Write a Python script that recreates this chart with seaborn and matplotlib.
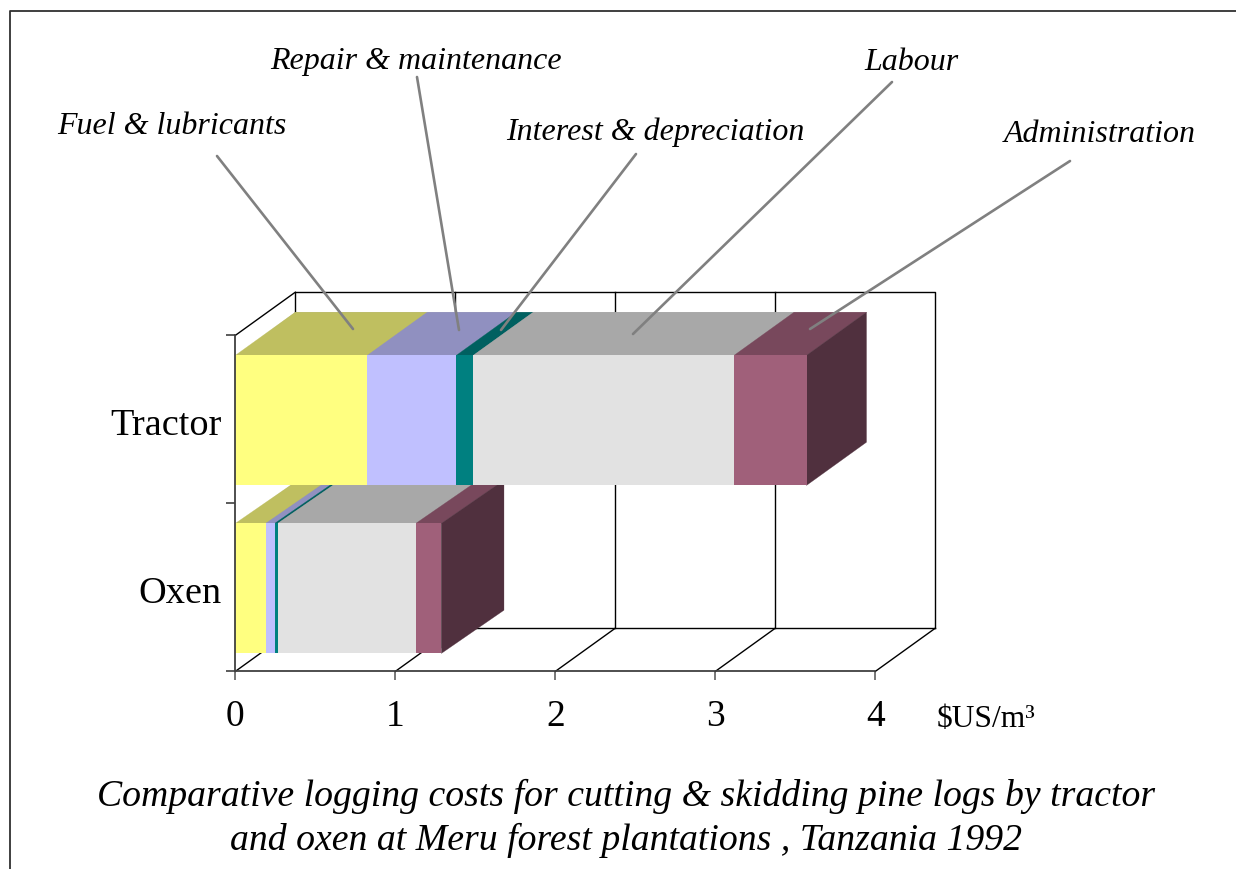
import matplotlib
matplotlib.use("Agg")
import matplotlib.pyplot as plt
from matplotlib.lines import Line2D
from matplotlib.patches import Polygon
from matplotlib.transforms import ScaledTranslation
import numpy as np
import pandas as pd
import seaborn as sns

modes = ["Tractor", "Oxen"]
components = ["Fuel & lubricants", "Repair & maintenance", "Interest & depreciation", "Labour", "Administration"]
tractor_costs = [0.825, 0.556, 0.106, 1.63, 0.453]
oxen_costs = [0.19, 0.056, 0.019, 0.863, 0.16]
front_colors = ["#FFFF80", "#C0C0FF", "#008080", "#E2E2E2", "#A0607A"]
top_colors = ["#BFBF60", "#9090C0", "#006060", "#A8A8A8", "#78485C"]
side_color = "#50303E"
x_ticks = [0, 1, 2, 3, 4]
title_lines = ["Comparative logging costs for cutting & skidding pine logs by tractor",
               "and oxen at Meru forest plantations , Tanzania 1992"]

W, H = 1236, 870
sns.set_theme(style="white")
plt.rcParams["font.family"] = ["Liberation Serif", "DejaVu Serif"]
plt.rcParams["text.parse_math"] = False

fig = plt.figure(figsize=(W / 100, H / 100), dpi=100, facecolor="white")
ax = fig.add_axes([235.3 / W, (H - 672.4) / H, 640 / W, 336 / H])

def px(x, y):
    return x / W, 1 - y / H

BAR_H = 0.774
DX, DY = 60 / 160, 43.2 / 168
BAR_DX = [60 / 160, 62.6 / 160]

tr_cum = np.cumsum(tractor_costs)
ox_cum = np.cumsum(oxen_costs)
rows = []
for i, c in enumerate(components):
    rows.append(dict(mode="Tractor", comp=c, cum=tr_cum[i]))
    rows.append(dict(mode="Oxen", comp=c, cum=ox_cum[i]))
df = pd.DataFrame(rows)

sns.barplot(data=df, y="mode", x="cum", hue="comp", order=modes,
            hue_order=components[::-1], palette=dict(zip(components, front_colors)),
            dodge=False, width=BAR_H, legend=False, saturation=1, errorbar=None,
            ax=ax, zorder=4, linewidth=0)

top, bot = -0.506, 1.494
ax.set_xlim(0, 4)
ax.set_ylim(bot, top)
ax.set_xlabel("")
ax.set_ylabel("")

# back walls and floor lines
gk = dict(color="black", lw=1.0, clip_on=False, zorder=1, solid_capstyle="projecting")
ax.plot([0, DX], [top, top - DY], **gk)
ax.plot([DX, DX, 4 + DX, 4 + DX], [bot - DY, top - DY, top - DY, bot - DY], **gk)
ax.plot([DX, 4 + DX], [bot - DY, bot - DY], **gk)
for v in x_ticks:
    ax.plot([v, v + DX], [bot, bot - DY], **gk)
    if 0 < v < 4:
        ax.plot([v + DX, v + DX], [bot - DY, top - DY], **gk)

# pseudo-3D faces of the bars
for j, cum in enumerate([tr_cum, ox_cum]):
    y0 = j - BAR_H / 2
    y1 = j + BAR_H / 2
    z = 3 if j == 1 else 3.5
    bdx = BAR_DX[j]
    starts = np.concatenate([[0], cum[:-1]])
    # opaque backing so the wall lines do not show through polygon seams
    inner = y1 - 0.03
    ax.add_patch(Polygon([(0.01, y0), (bdx, y0 - DY), (cum[-1] + bdx - 0.01, y0 - DY),
                          (cum[-1] + bdx - 0.01, inner - DY), (cum[-1], inner), (0.01, inner)],
                         closed=True, fc=top_colors[3], ec="none", clip_on=False, zorder=2))
    for s, e, col in zip(starts, cum, top_colors):
        ax.add_patch(Polygon([(s, y0), (e, y0), (e + bdx, y0 - DY), (s + bdx, y0 - DY)],
                             closed=True, fc=col, ec=col, lw=0.2, clip_on=False, zorder=z))
    ax.add_patch(Polygon([(cum[-1], y0), (cum[-1] + bdx, y0 - DY), (cum[-1] + bdx, y1 - DY), (cum[-1], y1)],
                         closed=True, fc=side_color, ec=side_color, lw=0.2, clip_on=False, zorder=z))

# axes
sns.despine(ax=ax, top=True, right=True)
for s in ("left", "bottom"):
    ax.spines[s].set_color("#404040")
    ax.spines[s].set_linewidth(1.3)
    ax.spines[s].set_zorder(6)
ax.set_xticks(x_ticks)
ax.set_xticklabels([str(v) for v in x_ticks], fontsize=27, color="black")
ax.set_yticks([0, 1])
ax.set_yticklabels(modes, fontsize=27.5, color="black")
for lbl in ax.get_yticklabels():
    lbl.set_transform(lbl.get_transform() + ScaledTranslation(0, 2 / 100, fig.dpi_scale_trans))
ax.set_yticks([top, (top + bot) / 2, bot], minor=True)
ax.tick_params(axis="y", which="major", length=0, pad=10)
ax.tick_params(axis="y", which="minor", left=True, length=6.5, width=1.2, color="#404040")
ax.tick_params(axis="x", which="major", bottom=True, length=6.3, width=1.2, color="#606060", pad=13.5)

# outer frame
fk = dict(color="#303030", lw=1.3)
fig.add_artist(Line2D(*zip(px(10, 870), px(10, 11.5), px(1236, 11.5)), transform=fig.transFigure, **fk))

# component labels and leader lines
labels = {
    "Fuel & lubricants": ((172, 127), (217, 157), (353, 330)),
    "Repair & maintenance": ((416, 61), (417, 78), (459, 331)),
    "Interest & depreciation": ((655, 132), (636, 155), (501, 331)),
    "Labour": ((911, 63), (892, 83), (633, 335)),
    "Administration": ((1100, 134), (1070, 162), (810, 330)),
}
for name, (tp, a, b) in labels.items():
    fig.text(*px(*tp), name, ha="center", va="center", style="italic", fontsize=23, color="black")
    fig.add_artist(Line2D(*zip(px(*a), px(*b)), transform=fig.transFigure, color="#808080", lw=1.9, zorder=7))

fig.text(*px(985.5, 720), "$US/m³", ha="center", va="center", fontsize=22.7, color="black")
fig.text(*px(626.5, 796), title_lines[0], ha="center", va="center", style="italic", fontsize=27.2, color="black")
fig.text(*px(626, 840), title_lines[1], ha="center", va="center", style="italic", fontsize=27.2, color="black")

fig.savefig("out.png", dpi=100, facecolor="white")
